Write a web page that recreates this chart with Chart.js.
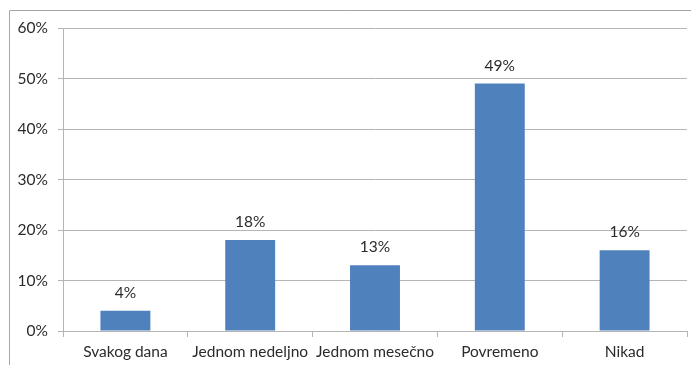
<!DOCTYPE html>
<html>
<head>
<meta charset="utf-8">
<script src="https://cdn.jsdelivr.net/npm/chart.js@4"></script>
<style>
  html, body { margin: 0; padding: 0; background: #fff; }
  #wrap { width: 691px; height: 365px; position: relative; }
</style>
</head>
<body>
<div id="wrap"><canvas id="freqChart" width="691" height="365"></canvas></div>
<script>
const categories = ['Svakog dana', 'Jednom nedeljno', 'Jednom mesečno', 'Povremeno', 'Nikad'];
const shares = [4, 18, 13, 49, 16];
const yTicks = [0, 10, 20, 30, 40, 50, 60];

const gridGray = '#b5b5b5';
const textColor = '#2b2b2b';
const fontFamily = 'Lato, "Open Sans", sans-serif';
const fontSize = 15.5;

// frame around the chart (left and top edges only)
const framePlugin = {
    id: 'frame',
    beforeDraw(chart) {
        const c = chart.ctx;
        c.save();
        c.strokeStyle = '#a6a6a6';
        c.lineWidth = 1;
        c.beginPath();
        c.moveTo(9.5, chart.height);
        c.lineTo(9.5, 10.5);
        c.lineTo(chart.width, 10.5);
        c.stroke();
        c.restore();
    }
};

// percentage labels above each bar
const valueLabels = {
    id: 'valueLabels',
    afterDatasetsDraw(chart) {
        const c = chart.ctx;
        const meta = chart.getDatasetMeta(0);
        c.save();
        c.font = fontSize + 'px ' + fontFamily;
        c.fillStyle = textColor;
        c.textAlign = 'center';
        c.textBaseline = 'middle';
        meta.data.forEach((bar, i) => {
            c.fillText(shares[i] + '%', bar.x, bar.y - 18);
        });
        c.restore();
    }
};

new Chart(document.getElementById('freqChart').getContext('2d'), {
    type: 'bar',
    data: {
        labels: categories,
        datasets: [{
            data: shares,
            backgroundColor: '#4f81bd',
            borderWidth: 0,
            barPercentage: 0.8,
            categoryPercentage: 0.5
        }]
    },
    options: {
        responsive: false,
        animation: false,
        layout: { padding: { left: 0, right: 4, top: 28, bottom: 0 } },
        plugins: { legend: { display: false }, tooltip: { enabled: false } },
        scales: {
            x: {
                grid: { drawOnChartArea: false, drawTicks: true, tickLength: 6, color: gridGray },
                border: { color: gridGray },
                ticks: { color: textColor, font: { family: fontFamily, size: fontSize }, padding: 6, maxRotation: 0 },
                afterFit(scale) { scale.height = 34; }
            },
            y: {
                min: 0,
                max: 60,
                afterBuildTicks(scale) { scale.ticks = yTicks.map(v => ({ value: v })); },
                grid: { color: gridGray, tickLength: 5 },
                border: { color: gridGray },
                ticks: {
                    color: textColor,
                    font: { family: fontFamily, size: fontSize },
                    padding: 10,
                    callback: v => v + '%'
                },
                afterFit(scale) { scale.width = 63; }
            }
        }
    },
    plugins: [framePlugin, valueLabels]
});
</script>
</body>
</html>
